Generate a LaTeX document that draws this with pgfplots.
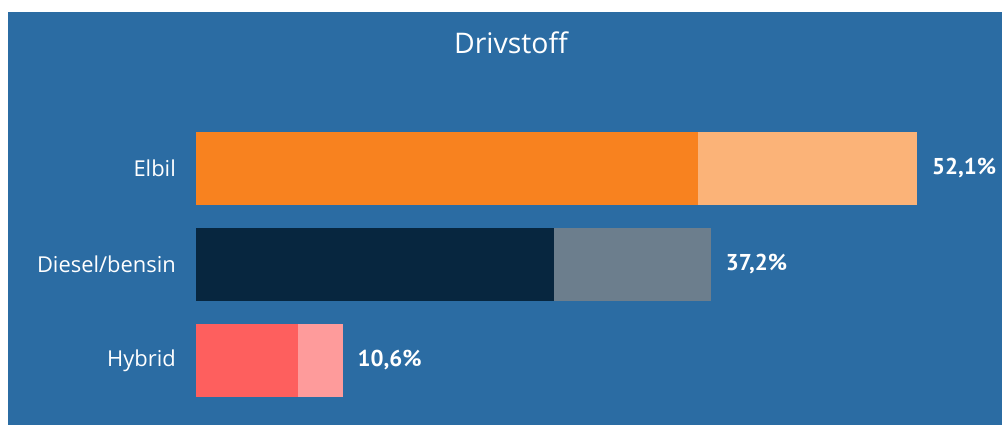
\documentclass[border=0pt]{standalone}
\usepackage{pgfplots}
\pgfplotsset{compat=1.18}
\usepackage{fontspec}
\setmainfont{Open Sans}
\newfontfamily\valfont{PT Sans}
\definecolor{bgblue}{HTML}{2B6CA3}
\definecolor{orA}{HTML}{F8821F}
\definecolor{orB}{HTML}{FBB378}
\definecolor{nvA}{HTML}{07263F}
\definecolor{nvB}{HTML}{6C7E8D}
\definecolor{rdA}{HTML}{FE5F5E}
\definecolor{rdB}{HTML}{FE9B9B}
\begin{document}
\begin{tikzpicture}[x=1bp,y=1bp]
\path[use as bounding box,fill=white] (0,0) rectangle (1002,425);
\fill[bgblue] (8,0) rectangle (1002,413);
\node[text=white,font=\fontsize{28.5}{32}\selectfont,anchor=base] at (511,372) {Drivstoff};
\begin{axis}[
  anchor=south west, at={(196bp,16.5bp)},
  scale only axis, width=830.4bp, height=288bp,
  xmin=0, xmax=60, ymin=-0.5, ymax=2.5,
  xbar stacked, bar width=73bp,
  axis line style={draw=none},
  major tick length=0pt,
  xtick=\empty,
  ytick={0,1,2},
  yticklabels={Hybrid,Diesel/bensin,Elbil},
  yticklabel style={text=white,font=\fontsize{22}{26}\selectfont,inner sep=0pt,anchor=east,xshift=-20bp},
  clip=false,
  vallab/.style={nodes near coords, point meta=explicit symbolic,
    every node near coord/.style={anchor=west,text=white,font=\valfont\bfseries\fontsize{23}{26}\selectfont,xshift=#1}},
]
% dark parts
\addplot[fill=rdA,draw=none] coordinates {(7.4,0) (0,1) (0,2)};
\addplot[fill=nvA,draw=none] coordinates {(0,0) (25.9,1) (0,2)};
\addplot[fill=orA,draw=none] coordinates {(0,0) (0,1) (36.3,2)};
% light parts, with totals (labels are centred on a segment: shifted by half its width)
\addplot[fill=rdB,draw=none,vallab=33.6bp] coordinates {(3.2,0) [10,6\%] (0,1) [] (0,2) []};
\addplot[fill=nvB,draw=none,vallab=89.7bp] coordinates {(0,0) [] (11.3,1) [37,2\%] (0,2) []};
\addplot[fill=orB,draw=none,vallab=120.8bp] coordinates {(0,0) [] (0,1) [] (15.8,2) [52,1\%]};
\end{axis}
\end{tikzpicture}
\end{document}
